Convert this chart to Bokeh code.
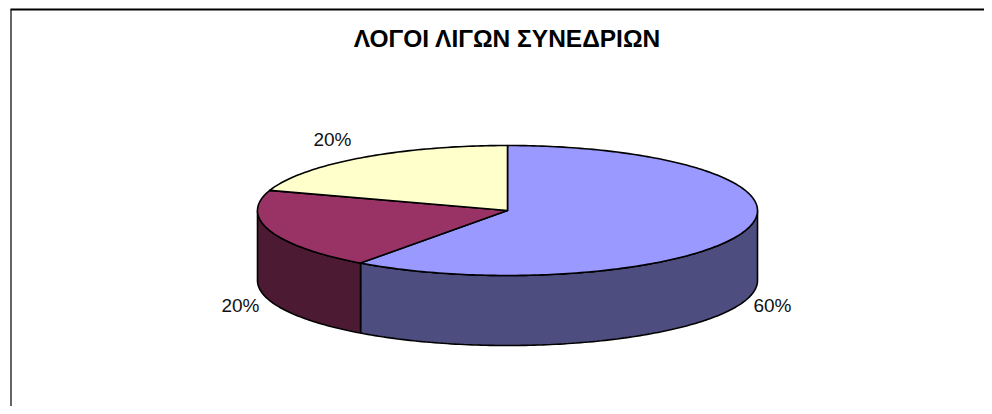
import math
from bokeh.plotting import figure
from bokeh.models import Range1d
from bokeh.core.properties import value
from bokeh.embed import file_html
from bokeh.resources import INLINE

title = "ΛΟΓΟΙ ΛΙΓΩΝ ΣΥΝΕΔΡΙΩΝ"
shares = [60, 20, 20]
labels = ["60%", "20%", "20%"]
top_colors = ["#9999FF", "#993366", "#FFFFCC"]
side_colors = ["#4D4D80", "#4D1A33", "#808066"]

CX, CY, RX, RY, DEPTH = 507, 210, 250, 65, 70

W, H = 984, 406
p = figure(width=W, height=H, output_backend="svg", toolbar_location=None,
           x_range=Range1d(0, W), y_range=Range1d(H, 0),
           min_border=0, outline_line_color=None, background_fill_color="white")
p.xaxis.visible = False
p.yaxis.visible = False
p.grid.visible = False


def pt(a):
    r = math.radians(a)
    return CX + RX * math.sin(r), CY - RY * math.cos(r)


def arc(a0, a1):
    n = max(2, int(abs(a1 - a0)) + 1)
    return [pt(a0 + (a1 - a0) * i / (n - 1)) for i in range(n)]


total = sum(shares)
spans, a = [], 0.0
for s in shares:
    spans.append((a, a + 360.0 * s / total))
    a += 360.0 * s / total

for (a0, a1), col in zip(spans, side_colors):
    lo, hi = max(a0, 90), min(a1, 270)
    if lo >= hi:
        continue
    upper = arc(lo, hi)
    xs = [q[0] for q in upper] + [q[0] for q in reversed(upper)]
    ys = [q[1] for q in upper] + [q[1] + DEPTH for q in reversed(upper)]
    p.patch(xs, ys, fill_color=col, line_color="black", line_width=1.6)

for (a0, a1), col in zip(spans, top_colors):
    e = arc(a0, a1)
    xs = [CX] + [q[0] for q in e]
    ys = [CY] + [q[1] for q in e]
    p.patch(xs, ys, fill_color=col, line_color="black", line_width=1.6, line_join="round")

p.line([10.5, 10.5], [H, 9], line_color="#333333", line_width=1.5)
p.line([10, W], [9, 9], line_color="black", line_width=2)

p.text([507], [38], text=[title], text_align="center", text_baseline="middle",
       text_font=value("Liberation Sans"), text_font_style="bold",
       text_font_size="24.5px", text_color="black")

lx = [772, 240, 332]
ly = [305, 305, 139]
for x, y, t in zip(lx, ly, labels):
    p.text([x], [y], text=[t], text_align="center", text_baseline="middle",
           text_font=value("Liberation Sans"), text_font_size="19px", text_color="#111111")

open("out.html", "w").write(file_html(p, INLINE))
